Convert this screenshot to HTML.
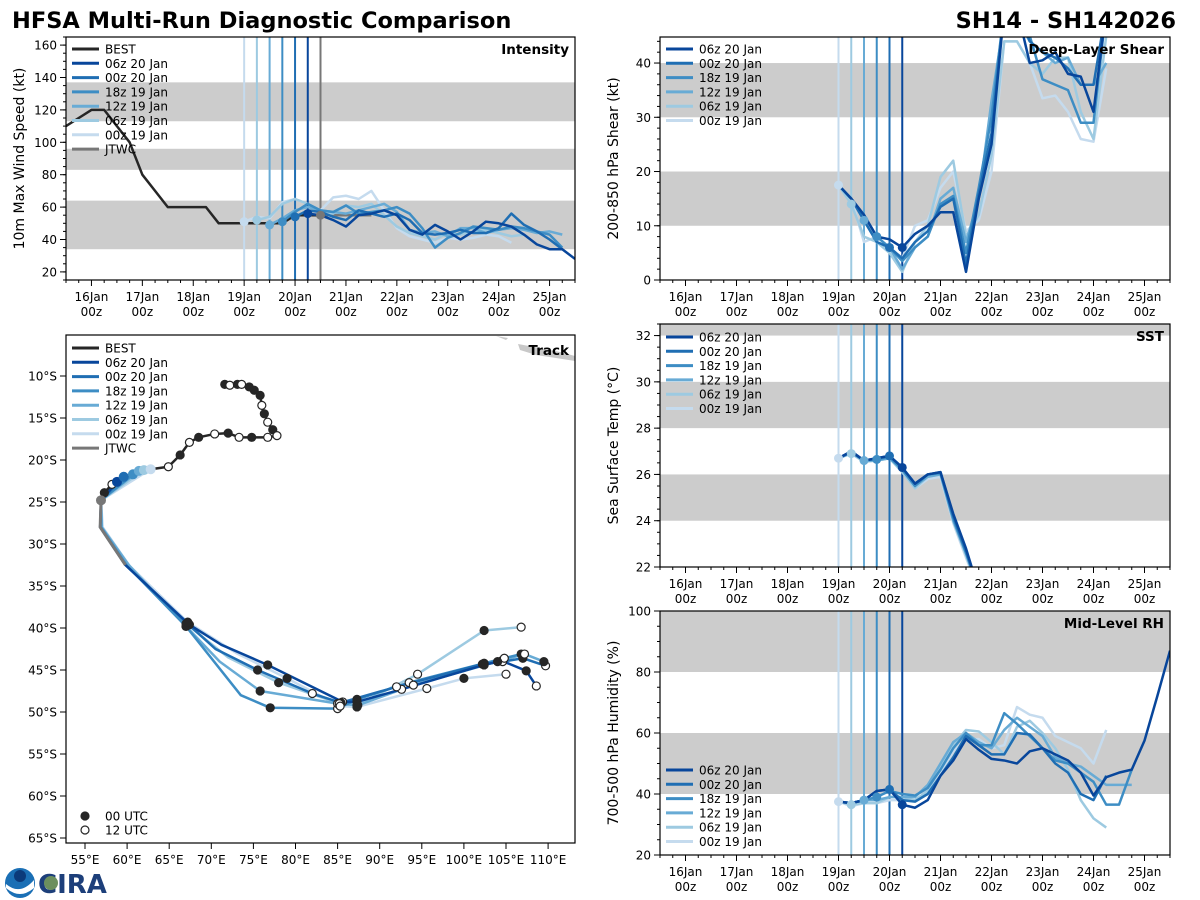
<!DOCTYPE html>
<html><head><meta charset="utf-8"><style>
html,body{margin:0;padding:0;background:#fff;}
svg{display:block;font-family:"DejaVu Sans","Liberation Sans",sans-serif;}
</style></head><body>
<svg id="fig" width="1200" height="900" viewBox="0 0 1200 900">
<text x="12" y="28" font-size="22.5" font-weight="bold">HFSA Multi-Run Diagnostic Comparison</text>
<text x="1176" y="28" font-size="22.5" font-weight="bold" text-anchor="end">SH14 - SH142026</text>
<g>
<circle cx="20" cy="883" r="15" fill="#1a6fb5"/><path d="M6,884 Q20,896 34,880 L34,888 Q20,900 6,888Z" fill="#fff"/><circle cx="20" cy="876" r="6" fill="#0b3a7a"/>
<text x="38" y="893" font-size="26" font-weight="bold" fill="#1d3f7a">CIRA</text>
<circle cx="51" cy="883" r="7" fill="#6c8f5e"/>
</g>
</svg>
<script>
const NS='http://www.w3.org/2000/svg';
const svg=document.getElementById('fig');
const runNames=['06z 20 Jan','00z 20 Jan','18z 19 Jan','12z 19 Jan','06z 19 Jan','00z 19 Jan'];
const runColors=['#08469b','#1f6eb3','#3d8dc4','#68abd5','#9dcae1','#c5dbee'];
const runInits=[20.25,20.0,19.75,19.5,19.25,19.0];
const dayTicks=[16,17,18,19,20,21,22,23,24,25];
const dayLabels=['16Jan','17Jan','18Jan','19Jan','20Jan','21Jan','22Jan','23Jan','24Jan','25Jan'];

// Intensity
const bestTimes=[15.5,15.75,16,16.25,16.5,16.75,17,17.25,17.5,17.75,18,18.25,18.5,18.75,19,19.25,19.5,19.75,20,20.25,20.5];
const bestVmax=[110,115,120,120,110,100,80,70,60,60,60,60,50,50,50,50,50,50,55,55,55];
const jtwcTimes=[20.5,20.75,21,21.25,21.5];
const jtwcVmax=[55,55,55,55,55];
const intensityRuns=[
[56,55,52,48,55,56,58,55,46,43,49,45,40,45,51,50,48,43,37,34,34,28],
[54,58,57,54,52,58,56,54,56,52,44,43,44,46,44,44,47,56,49,45,40,34],
[51,57,62,58,57,61,56,57,58,60,56,47,35,41,44,48,47,46,48,47,45,43,35],
[49,53,58,60,58,57,56,58,60,62,57,46,44,45,42,47,47,44,46,47,46,44,45,43],
[52,54,62,65,62,57,56,61,60,62,55,48,44,42,40,44,43,45,46,44,42,43],
[51,54,53,63,65,62,58,66,67,65,70,58,47,42,40,38,41,40,41,43,42,38]];
// Shear (all start 19.0)
const shearRuns=[
[17.5,15,12,8,7.5,6,8.5,10,12.5,12.5,1.5,15,25,50,50,40,40.5,42,38,37.5,31,50],
[17.5,15,11,7,6,4,7,9,13.5,15,3,16,27,50,50,44,42,41,39,36,36,50],
[17.5,15,12,8,6,3.5,6,8,14,15.5,5,17,30,50,50,45,37,36,35,29,29,50],
[17.5,15,11,7,6,2,6,8,15,17,7,15,33,48,48,44,42,40,41,36,36,40],
[17.5,14,8,7,5,1.5,7,10,19,22,8,12,23,44,44,40,38,41,41,31,26,45],
[17.5,15,7,8,6,4,10,11,17,20,9,11,20,44,44,40,33.5,34,31,26,25.5,39]];
// SST
const sstRuns=[
[26.7,27.0,26.6,26.7,26.8,26.3,25.6,26.0,26.1,24.3,22.8,21.0],
[26.7,27.0,26.6,26.7,26.8,26.3,25.6,26.0,26.1,24.2,22.7,21.0],
[26.7,26.95,26.6,26.65,26.75,26.2,25.5,26.0,26.05,24.1,22.6,21.0],
[26.7,26.95,26.6,26.6,26.7,26.2,25.5,25.9,26.0,24.0,22.6,21.0],
[26.7,26.9,26.55,26.6,26.7,26.1,25.4,25.9,26.0,24.0,22.5,21.0],
[26.7,26.9,26.55,26.6,26.7,26.1,25.4,25.8,25.9,23.9,22.4,21.0]];
// RH
const rhRuns=[
[37.5,37,38,41,41.5,36.5,35.5,38,46,51,58,54.5,51.5,51,50,54,55,53,51,47,39.5,45.5,47,48,57.5,72,87],
[37.5,37,38,41,41.5,38,37.5,40,46,52,59,56,53,53,60,59.5,55,50,47,40,38,46],
[37.5,37,38,39,41,40,39.5,42,48,55,60,56,56,66.5,63,59,55,51,50,47,44,36.5,36.5,48],
[37.5,37,38,38,39,39,39,43,50,57,60,57,55,61,65,62,59,52,50,49,46,43,43,43],
[37.5,36.5,37,37,39,39,38,41,49,56,61,60.5,57,53,62,64,60,55,48,38,32,29],
[37.5,36,37,37,38,38,38,41,47,54,58,58,55,56,68.5,66,65,59,57,55,50,61]];

// Track data (lon E, lat S)
const bestLon=[71.6,72.2,73.1,73.6,74.5,75.1,75.8,76.0,76.3,76.7,77.3,77.8,76.7,74.8,73.3,72.0,70.4,68.5,67.4,66.3,64.9,62.8,61.4,60.7,59.6,58.8,58.2,57.3,56.9];
const bestLat=[11.0,11.1,11.0,11.0,11.3,11.7,12.3,13.5,14.5,15.5,16.4,17.1,17.3,17.3,17.3,16.8,16.9,17.3,17.9,19.4,20.8,21.1,21.3,21.7,22.0,22.6,22.9,23.9,24.8];
const jtwcLon=[56.9,56.8,59.8];
const jtwcLat=[24.8,28.0,32.5];
const trackLon=[
[58.8,56.9,56.8,59.8,67.4,71.2,76.7,85.6,87.3,92.6,102.4,104.5,107.4,108.6],
[59.6,56.9,56.8,59.8,67.2,70.5,75.5,82.0,85.4,92.0,102.2,104.6,107.0,109.7],
[60.7,56.9,56.9,60.0,67.0,73.5,77.0,85.0,87.3,93.5,102.4,104.8,106.8],
[61.4,56.9,57.0,60.2,67.0,71.0,75.8,85.0,87.4,94.0,104.0,107.2,109.5],
[62.0,56.9,57.0,60.0,67.0,72.0,78.0,85.2,87.3,94.5,102.4,106.8],
[62.8,56.9,57.1,60.3,67.2,73.0,79.0,85.3,87.3,95.6,100.0,105.0]];
const trackLat=[
[22.6,24.8,28.0,32.5,39.6,42.0,44.4,48.8,48.8,47.3,44.4,43.9,45.1,46.9],
[22.0,24.8,28.0,32.5,39.5,42.5,45.0,47.8,48.9,47.0,44.3,44.0,43.6,44.5],
[21.7,24.8,28.0,32.6,39.8,48.0,49.5,49.6,48.5,46.5,44.2,43.6,43.1],
[21.3,24.8,28.0,32.5,39.8,44.0,47.5,49.0,49.2,46.8,44.0,43.1,44.0],
[21.2,24.8,28.0,32.5,39.5,43.5,46.5,49.0,49.2,45.5,40.3,39.9],
[21.1,24.8,28.0,32.6,39.3,43.0,46.0,49.3,49.4,47.2,46.0,45.5]];
const bestMarks=[1,0,1,0,1,1,1,0,1,0,1,0,0,1,0,1,0,1,0,1,0,1,0,0,1,1,0,1,0];

function el(tag,attrs,parent){const e=document.createElementNS(NS,tag);for(const k in attrs)e.setAttribute(k,attrs[k]);(parent||svg).appendChild(e);return e;}
function txt(x,y,s,size,attrs,parent){const t=el('text',Object.assign({x:x,y:y,'font-size':size},attrs||{}),parent);t.textContent=s;return t;}

function timePanel(o){
  const g=el('g',{});
  
  
  const xs=t=>o.x0+(t-15.5)/10*(o.x1-o.x0);
  const ys=v=>o.y1-(v-o.vmin)/(o.vmax-o.vmin)*(o.y1-o.y0);
  const cid='clip-'+o.name;
  const cp=el('clipPath',{id:cid},g);el('rect',{x:o.x0,y:o.y0,width:o.x1-o.x0,height:o.y1-o.y0},cp);
  o.bands.forEach(b=>{const r=el('rect',{x:o.x0,y:ys(Math.min(b[1],o.vmax)),width:o.x1-o.x0,height:ys(b[0])-ys(Math.min(b[1],o.vmax)),fill:'#cccccc'},g);
    });
  runInits.forEach((t,i)=>{const l=el('line',{x1:xs(t),x2:xs(t),y1:o.y0,y2:o.y1,stroke:runColors[i],'stroke-width':2},g);
    });
  if(o.jtwcLine){const l=el('line',{x1:xs(20.5),x2:xs(20.5),y1:o.y0,y2:o.y1,stroke:'#777','stroke-width':2},g);
    }
  const pg=el('g',{'clip-path':'url(#'+cid+')'},g);
  const line=(times,vals,color,w,name)=>{const p=el('polyline',{points:vals.map((v,i)=>xs(times[i])+','+ys(v)).join(' '),fill:'none',stroke:color,'stroke-width':w,'stroke-linejoin':'round'},pg);
    };
  if(o.best){line(bestTimes,bestVmax,'#262626',2.5,'best-track-line');line(jtwcTimes,jtwcVmax,'#777',2.5,'jtwc-line');}
  for(let i=5;i>=0;i--){const s=o.start?o.start:runInits[i];const v=o.runs[i];line(v.map((_,k)=>s+k*0.25),v,runColors[i],2.5,'series-'+runNames[i].replace(/ /g,'-'));}
  for(let i=5;i>=0;i--){const s=o.start?o.start:runInits[i];const idx=Math.round((runInits[i]-s)/0.25);const v=o.runs[i][idx];
    if(v!==undefined&&v<=o.vmax){const c=el('circle',{cx:xs(runInits[i]),cy:ys(v),r:4.5,fill:runColors[i]},pg);}}
  if(o.best){const c=el('circle',{cx:xs(20.5),cy:ys(55),r:4.5,fill:'#777'},pg);}
  el('rect',{x:o.x0,y:o.y0,width:o.x1-o.x0,height:o.y1-o.y0,fill:'none',stroke:'#000','stroke-width':1.2},g);
  for(let t=15.5;t<=25.5001;t+=0.25){const maj=Math.abs(t-Math.round(t))<1e-6;el('line',{x1:xs(t),x2:xs(t),y1:o.y1,y2:o.y1+(maj?6:3),stroke:'#000'},g);}
  dayTicks.forEach((d,i)=>{txt(xs(d),o.y1+21,dayLabels[i],12,{'text-anchor':'middle'},g);
    txt(xs(d),o.y1+36,'00z',12,{'text-anchor':'middle'},g);});
  o.yticks.forEach(v=>{el('line',{x1:o.x0-6,x2:o.x0,y1:ys(v),y2:ys(v),stroke:'#000'},g);txt(o.x0-9,ys(v)+4.5,String(v),12,{'text-anchor':'end'},g);});
  for(let v=o.vmin;v<=o.vmax;v+=o.minor){el('line',{x1:o.x0-3,x2:o.x0,y1:ys(v),y2:ys(v),stroke:'#000'},g);}
  const yl=txt(0,0,o.ylabel,14,{'text-anchor':'middle',transform:'translate('+(o.x0-42)+','+((o.y0+o.y1)/2)+') rotate(-90)'},g);
  
  const tt=txt(o.x1-6,o.y0+17,o.title,13.5,{'text-anchor':'end','font-weight':'bold'},g);
  
  const names=o.best?['BEST'].concat(runNames,['JTWC']):runNames;
  const cols=o.best?['#262626'].concat(runColors,['#777']):runColors;
  names.forEach((n,i)=>{const y=o.legY+i*14.3;const lg=el('g',{},g);
    
    el('line',{x1:o.x0+6,x2:o.x0+33,y1:y,y2:y,stroke:cols[i],'stroke-width':3},lg);txt(o.x0+39,y+4.5,n,12,{},lg);});
}

timePanel({name:'intensity',x0:66,x1:575,y0:37,y1:280,vmin:15,vmax:165,yticks:[20,40,60,80,100,120,140,160],minor:5,
  bands:[[34,64],[83,96],[113,137]],runs:intensityRuns,best:true,jtwcLine:true,ylabel:'10m Max Wind Speed (kt)',title:'Intensity',legY:49});
timePanel({name:'shear',x0:660,x1:1170,y0:37,y1:280,vmin:0,vmax:44.8,yticks:[0,10,20,30,40],minor:2,
  bands:[[10,20],[30,40]],runs:shearRuns,start:19,ylabel:'200-850 hPa Shear (kt)',title:'Deep-Layer Shear',legY:49});
timePanel({name:'sst',x0:660,x1:1170,y0:324,y1:567,vmin:22,vmax:32.5,yticks:[22,24,26,28,30,32],minor:0.5,
  bands:[[24,26],[28,30],[32,33]],runs:sstRuns,start:19,ylabel:'Sea Surface Temp (°C)',title:'SST',legY:337});
timePanel({name:'rh',x0:660,x1:1170,y0:611,y1:855,vmin:20,vmax:100,yticks:[20,40,60,80,100],minor:5,
  bands:[[40,60],[80,100]],runs:rhRuns,start:19,ylabel:'700-500 hPa Humidity (%)',title:'Mid-Level RH',legY:770});

(function(){
  const X0=66,X1=575,Y0=335,Y1=843;
  const g=el('g',{});
  const xl=lon=>85+(lon-55)/5*42.1, yl=lat=>376+(lat-10)/5*42;
  const cp=el('clipPath',{id:'clip-track'},g);el('rect',{x:X0,y:Y0,width:X1-X0,height:Y1-Y0},cp);
  const pg=el('g',{'clip-path':'url(#clip-track)'},g);
  const land=el('path',{d:'M518,344 L540,348 L560,352 L575,356 L575,361 L556,358 L536,355 L520,350 Z M496,336 L508,338 L506,340 Z',fill:'#c8c8c8'},pg);
  
  const pl=(lons,lats,color,w,name)=>{const p=el('polyline',{points:lons.map((v,i)=>xl(v)+','+yl(lats[i])).join(' '),fill:'none',stroke:color,'stroke-width':w,'stroke-linejoin':'round'},pg);
    };
  for(let i=5;i>=0;i--)pl(trackLon[i],trackLat[i],runColors[i],2.5,'track-'+runNames[i].replace(/ /g,'-'));
  pl(jtwcLon,jtwcLat,'#777',3,'track-jtwc');
  pl(bestLon,bestLat,'#262626',2.5,'track-best');
  const mark=(lon,lat,filled)=>{const c=el('circle',{cx:xl(lon),cy:yl(lat),r:4,fill:filled?'#262626':'#fff',stroke:'#262626','stroke-width':1.2},pg);
    };
  bestLon.forEach((v,i)=>mark(v,bestLat[i],bestMarks[i]));
  for(let i=0;i<6;i++){const L=trackLon[i];for(let k=4;k<L.length;k++)if(k!==5)mark(L[k],trackLat[i][k],k%2===0);}
  for(let i=0;i<6;i++){const c=el('circle',{cx:xl(trackLon[i][0]),cy:yl(trackLat[i][0]),r:5,fill:runColors[i]},pg);}
  const jc=el('circle',{cx:xl(56.9),cy:yl(24.8),r:5,fill:'#777'},pg);
  el('rect',{x:X0,y:Y0,width:X1-X0,height:Y1-Y0,fill:'none',stroke:'#000','stroke-width':1.2},g);
  for(let lat=10;lat<=65;lat+=5){el('line',{x1:X0-6,x2:X0,y1:yl(lat),y2:yl(lat),stroke:'#000'},g);txt(X0-9,yl(lat)+4.5,lat+'°S',12,{'text-anchor':'end'},g);}
  for(let lon=55;lon<=110;lon+=5){el('line',{x1:xl(lon),x2:xl(lon),y1:Y1,y2:Y1+6,stroke:'#000'},g);txt(xl(lon),Y1+21,lon+'°E',12,{'text-anchor':'middle'},g);}
  txt(X1-6,Y0+20,'Track',13.5,{'text-anchor':'end','font-weight':'bold'},g);
  const names=['BEST'].concat(runNames,['JTWC']),cols=['#262626'].concat(runColors,['#777']);
  names.forEach((n,i)=>{const y=348+i*14.3;const lg=el('g',{},g);
    el('line',{x1:72,x2:99,y1:y,y2:y,stroke:cols[i],'stroke-width':3},lg);txt(105,y+4.5,n,12,{},lg);});
  [['00 UTC',1,816],['12 UTC',0,830]].forEach(a=>{const lg=el('g',{},g);
    el('circle',{cx:85,cy:a[2],r:4,fill:a[1]?'#262626':'#fff',stroke:'#262626','stroke-width':1.2},lg);txt(105,a[2]+4.5,a[0],12,{},lg);});
})();
</script>
</body></html>
